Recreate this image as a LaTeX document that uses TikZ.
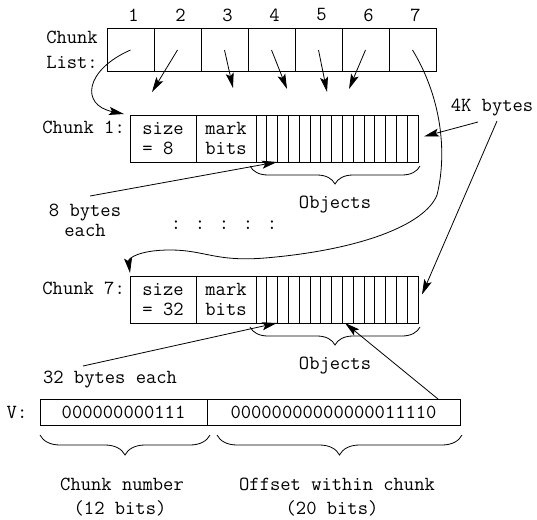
\documentclass[tikz,border=0pt]{standalone}
\usepackage{fontspec}
\usetikzlibrary{arrows.meta,positioning,calc,decorations.pathreplacing}

\begin{document}
\begin{tikzpicture}[x=1pt,y=-1pt,
    every node/.style={font=\ttfamily\fontsize{20}{20}\selectfont,inner sep=0pt},
    cell/.style={draw,line width=1pt,minimum width=47,minimum height=42,inner sep=0pt,outer sep=0pt},
    hdr/.style={draw,line width=1pt,minimum height=47,align=left,inner sep=0pt,outer sep=0pt},
    arr/.style={-{Stealth[length=15pt,width=8pt,inset=3pt]},line width=0.8pt},
    brc/.style={decorate,decoration={brace,mirror,amplitude=#1},line width=0.8pt}
  ]
  \useasboundingbox (0,0) rectangle (537,519);
  % chunk list
  \node[align=left] (lst) at (72,50) {Chunk\\[5pt]List:};
  \foreach \i in {1,...,7}{
    \node[cell,anchor=north west] (c\i) at (60+47*\i,29) {};
    \node (n\i) at ($(c\i.north)+(3,-14)$) {\i};
  }
  % chunk 1
  \node[hdr,minimum width=66,anchor=north west] (s1) at (130,115) {size\\= 8};
  \node[hdr,minimum width=60,right=0pt of s1] (m1) {mark\\bits};
  \node[hdr,minimum width=162,right=0pt of m1] (o1) {};
  \foreach \k in {1,...,14}
    \draw[line width=0.7pt] ($(o1.north west)+(10.8*\k,0)$) -- ($(o1.south west)+(10.8*\k,0)$);
  \node[anchor=east] (l1) at ($(s1.north west)+(-5,12)$) {Chunk 1:};
  \draw[brc=18] ($(o1.south west)+(-6,4)$) -- ($(o1.south east)+(2,4)$);
  \node (ob1) at (335,205) {Objects};
  % chunk 7
  \node[hdr,minimum width=66,anchor=north west] (s7) at (130,276) {size\\= 32};
  \node[hdr,minimum width=60,right=0pt of s7] (m7) {mark\\bits};
  \node[hdr,minimum width=162,right=0pt of m7] (o7) {};
  \foreach \k in {1,...,14}
    \draw[line width=0.7pt] ($(o7.north west)+(10.8*\k,0)$) -- ($(o7.south west)+(10.8*\k,0)$);
  \node[anchor=east] (l7) at ($(s7.north west)+(-5,12)$) {Chunk 7:};
  \draw[brc=18] ($(o7.south west)+(-6,4)$) -- ($(o7.south east)+(2,4)$);
  \node (ob7) at (335,366) {Objects};
  \node (dots) at (224,225) {: : : : :};
  % labels
  \node[align=center] (eb) at (85,220) {8 bytes\\each};
  \node (tb) at (110,380) {32 bytes each};
  \node (kb) at (492,108) {4K bytes};
  % V
  \node (vl) at (17,412) {V:};
  \node[cell,minimum width=167,minimum height=26,anchor=north west] (v1) at (40,399) {000000000111};
  \node[cell,minimum width=253,minimum height=26,right=0pt of v1] (v2) {00000000000000011110};
  \draw[brc=20] ($(v1.south west)+(0,10)$) -- ($(v1.south east)+(3,10)$);
  \draw[brc=20] ($(v2.south west)+(10,10)$) -- ($(v2.south east)+(2,10)$);
  \node (cn) at (122,484) {Chunk number};
  \node (cb) at (120,508) {(12 bits)};
  \node (ow) at (337,484) {Offset within chunk};
  \node (wb) at (332,508) {(20 bits)};
  % pointers
  \draw[arr] (c1.center) .. controls (85,70) and (80,105) .. ($(s1.north west)+(-6,-1)$);
  \foreach \i/\x/\y in {2/152/92,3/233/88,4/287/89,5/327/92,6/349/89}{
    \coordinate (t\i) at (\x,\y);
    \draw[arr] (c\i.center) -- (t\i);
  }
  \draw[arr] (c7.center) .. controls (440,95) and (448,150) .. (437,195)
    .. controls (425,225) and (360,250) .. (265,258)
    .. controls (215,262) and (205,250) .. (170,250)
    .. controls (140,250) and (128,258) .. ($(s7.north west)+(0,-3)$);
  \draw[arr] ($(kb.center)+(-14,14)$) -- ($(o1.east)+(6,-2)$);
  \draw[arr] ($(kb.center)+(5,13)$) -- ($(o7.east)+(4,-5)$);
  \draw[arr] ($(eb.center)+(5,-24)$) -- ($(o1.south west)+(21,0)$);
  \draw[arr] ($(tb.center)+(-27,-14)$) -- ($(o7.south west)+(21,0)$);
  \draw[arr] ($(v2.north east)+(-22,0)$) -- ($(o7.south west)+(89,0)$);
\end{tikzpicture}
\end{document}
